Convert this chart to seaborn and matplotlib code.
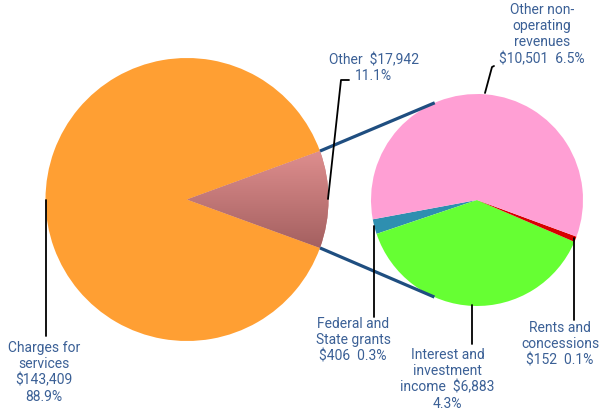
import numpy as np
import matplotlib
matplotlib.use("Agg")
import matplotlib.pyplot as plt
import seaborn as sns
from matplotlib.colors import LinearSegmentedColormap

# ---- data ----
main_labels = ["Other", "Charges for\nservices"]
main_values = [17942, 143409]
main_pcts = ["11.1%", "88.9%"]
sub_labels = ["Federal and\nState grants", "Interest and\ninvestment\nincome", "Rents and\nconcessions",
              "Other non-\noperating\nrevenues"]
sub_values = [406, 6883, 152, 10501]
sub_pcts = ["0.3%", "4.3%", "0.1%", "6.5%"]

main_colors = ["#c77b7b", "#ff9f33"]
sub_colors = ["#2e8fb0", "#66ff33", "#d80000", "#ff9fd4"]
text_color = "#3b6096"

sns.set_theme(style="white")
plt.rcParams["font.family"] = ["Roboto", "DejaVu Sans"]

W, H = 599, 414
fig = plt.figure(figsize=(W / 100, H / 100), dpi=100)
ax = fig.add_axes([0, 0, 1, 1])


def Y(y):
    return H - y


c1 = (187, Y(200.5)); r1 = 141.5
c2 = (477, Y(201)); r2 = 106

other_angle = main_values[0] / sum(main_values) * 360
w1, _ = ax.pie(main_values, colors=main_colors, startangle=-other_angle / 2,
               center=c1, radius=r1, wedgeprops=dict(linewidth=0))
w2, _ = ax.pie(sub_values, colors=sub_colors, startangle=190.5,
               center=c2, radius=r2, wedgeprops=dict(linewidth=0))

# gradient on the "Other" wedge
other = w1[0]
t1, t2 = np.radians(other.theta1), np.radians(other.theta2)
y_top = c1[1] + r1 * np.sin(t2)
y_bot = c1[1] + r1 * np.sin(t1)
grad = np.linspace(0, 1, 256).reshape(-1, 1)
cmap = LinearSegmentedColormap.from_list("g", ["#a46060", "#de8e8e"])
im = ax.imshow(grad, extent=[c1[0], c1[0] + r1 + 2, y_bot, y_top], origin="lower",
               cmap=cmap, aspect="auto", zorder=2, interpolation="bilinear")
im.set_clip_path(other)

# connector lines between pies
for t, a in [(t2, 113.5), (t1, -113.7)]:
    p0 = (c1[0] + r1 * np.cos(t), c1[1] + r1 * np.sin(t))
    ar = np.radians(a)
    p1 = (c2[0] + r2 * np.cos(ar), c2[1] + r2 * np.sin(ar))
    ax.plot([p0[0], p1[0]], [p0[1], p1[1]], color="#1f4e80", lw=2.3,
            solid_capstyle="butt", zorder=1)


def fmt(v):
    return f"${v:,}"


tk = dict(color=text_color, fontsize=10, ha="center", va="top", linespacing=1.2)
lk = dict(color="black", lw=1.3, zorder=3)

# Charges for services
ax.text(44, Y(341), f"{main_labels[1]}\n{fmt(main_values[1])}\n{main_pcts[1]}", **tk)
ax.plot([45.5, 45.5], [Y(200.5), Y(337)], **lk)

# Other
ax.text(373.5, Y(53), f"{main_labels[0]}  {fmt(main_values[0])}\n{main_pcts[0]}", **tk)
ax.plot([328, 341, 349], [Y(200), Y(81), Y(81)], **lk)

# Other non-operating revenues
ax.text(542, Y(3), f"{sub_labels[3]}\n{fmt(sub_values[3])}  {sub_pcts[3]}", **tk)
ax.plot([485, 492, 494], [Y(94), Y(68), Y(67)], **lk)

# Federal and State grants
ax.text(353, Y(317), f"{sub_labels[0]}\n{fmt(sub_values[0])}  {sub_pcts[0]}", **tk)
ax.plot([374, 374], [Y(227), Y(318)], **lk)

# Interest and investment income
ax.text(447.5, Y(348), f"{sub_labels[1]}  {fmt(sub_values[1])}\n{sub_pcts[1]}", **tk)
ax.plot([472, 472], [Y(306), Y(345)], **lk)

# Rents and concessions
ax.text(560, Y(321), f"{sub_labels[2]}\n{fmt(sub_values[2])}  {sub_pcts[2]}", **tk)
ax.plot([574, 574], [Y(239), Y(321)], **lk)

ax.set_xlim(0, W)
ax.set_ylim(0, H)
ax.set_aspect("equal")
ax.axis("off")

fig.savefig("out.png", dpi=100)
